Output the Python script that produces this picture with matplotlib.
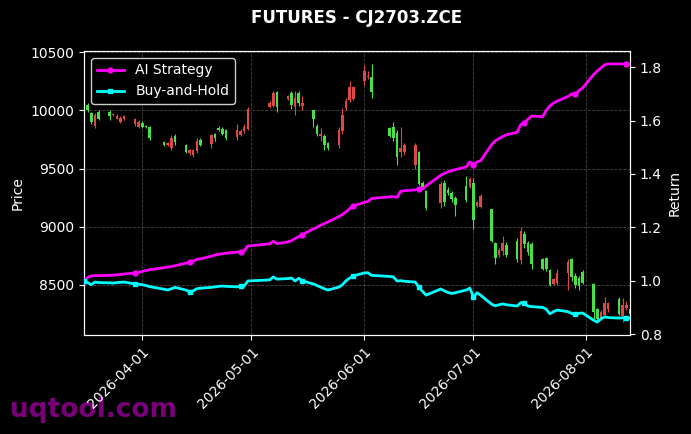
import numpy as np
import pandas as pd
import matplotlib
matplotlib.use("Agg")
import matplotlib.pyplot as plt
import matplotlib.dates as mdates

# ---------------- data ----------------
start_date = "2026-03-16"
end_date = "2026-08-13"
no_trade_days = ["2026-04-06", "2026-05-01", "2026-05-04", "2026-05-05",
                 "2026-06-04", "2026-06-05", "2026-06-19"]

open_ = [10040, 10050, 9980, 9870, 9990, 9990, 9960, 9930, 9900, 9930,
         9880, 9860, 9895, 9870, 9860, 9730, 9700, 9680, 9780, 9700,
         9630, 9620, 9650, 9750, 9710, 9800, 9850, 9840, 9830, 9770,
         9790, 9820, 9840, 10030, 10040, 10160, 10100, 10150, 10030, 10150,
         10040, 10000, 9870, 9780, 9780, 9720, 9700, 9820, 10020, 10090,
         10100, 10250, 10290, 10290, 9850, 9860, 9810, 9640, 9640, 9530,
         9640, 9380, 9310, 9200, 9380, 9320, 9290, 9250, 9350, 9340,
         9380, 9180, 9170, 9150, 8860, 8760, 8790, 8840, 8880, 8710,
         8940, 8860, 8850, 8720, 8730, 8630, 8510, 8520, 8600, 8720,
         8580, 8560, 8610, 8510, 8290, 8210, 8240, 8290, 8380, 8230,
         8300, 8290]
high = [10070, 10060, 9990, 9975, 10000, 10000, 9975, 9965, 9950, 9960,
        9935, 9915, 9905, 9875, 9870, 9735, 9730, 9790, 9800, 9710,
        9670, 9670, 9760, 9760, 9800, 9810, 9870, 9860, 9840, 9880,
        9840, 9880, 10030, 10080, 10170, 10170, 10130, 10170, 10170, 10170,
        10120, 10005, 9880, 9850, 9800, 9730, 9860, 10020, 10110, 10250,
        10210, 10390, 10340, 10400, 9860, 9900, 9830, 9860, 9720, 9720,
        9650, 9390, 9320, 9390, 9400, 9340, 9310, 9260, 9440, 9430,
        9420, 9220, 9280, 9150, 8870, 8820, 8920, 8870, 8900, 9000,
        8960, 8880, 8870, 8730, 8740, 8640, 8560, 8640, 8720, 8730,
        8600, 8580, 8630, 8520, 8300, 8280, 8400, 8350, 8400, 8390,
        8360, 8300]
low = [10020, 9990, 9880, 9850, 9920, 9920, 9950, 9925, 9890, 9920,
       9870, 9850, 9850, 9850, 9745, 9690, 9690, 9660, 9700, 9630,
       9620, 9600, 9630, 9690, 9680, 9740, 9820, 9790, 9750, 9750,
       9780, 9810, 9830, 10020, 10030, 9990, 10090, 10010, 9960, 10040,
       10000, 9860, 9780, 9740, 9660, 9660, 9680, 9800, 10000, 10070,
       10090, 10220, 10270, 10110, 9770, 9740, 9530, 9600, 9620, 9500,
       9360, 9330, 9140, 9160, 9180, 9270, 9210, 9090, 9210, 9330,
       8980, 9170, 9160, 8870, 8680, 8740, 8760, 8740, 8700, 8680,
       8820, 8760, 8640, 8630, 8620, 8490, 8500, 8500, 8460, 8530,
       8470, 8460, 8510, 8190, 8200, 8200, 8220, 8270, 8240, 8180,
       8280, 8240]
close = [10060, 10000, 9900, 9960, 9930, 9950, 9970, 9955, 9935, 9955,
         9925, 9900, 9860, 9860, 9760, 9700, 9720, 9760, 9730, 9640,
         9660, 9660, 9740, 9700, 9790, 9760, 9830, 9800, 9760, 9830,
         9820, 9860, 10010, 10060, 10150, 10030, 10120, 10050, 10110, 10060,
         10060, 9930, 9800, 9800, 9700, 9680, 9830, 9960, 10080, 10200,
         10200, 10340, 10300, 10160, 9780, 9760, 9600, 9680, 9700, 9700,
         9370, 9340, 9160, 9370, 9210, 9290, 9240, 9190, 9230, 9410,
         9060, 9210, 9260, 8880, 8730, 8800, 8860, 8760, 8720, 8960,
         8850, 8780, 8680, 8640, 8640, 8500, 8550, 8600, 8700, 8570,
         8500, 8490, 8520, 8270, 8210, 8270, 8340, 8340, 8250, 8330,
         8330, 8250]

ai_strategy = [1.000, 1.012, 1.018, 1.019, 1.019, 1.020, 1.021, 1.022, 1.023, 1.025,
               1.029, 1.030, 1.035, 1.038, 1.041, 1.049, 1.051, 1.053, 1.056, 1.066,
               1.070, 1.073, 1.080, 1.082, 1.092, 1.096, 1.099, 1.101, 1.103, 1.107,
               1.109, 1.112, 1.130, 1.138, 1.148, 1.139, 1.145, 1.150, 1.158, 1.165,
               1.173, 1.194, 1.200, 1.208, 1.214, 1.220, 1.240, 1.248, 1.258, 1.270,
               1.280, 1.293, 1.297, 1.308, 1.314, 1.315, 1.312, 1.335, 1.337, 1.340,
               1.345, 1.343, 1.355, 1.395, 1.402, 1.408, 1.412, 1.416, 1.426, 1.445,
               1.434, 1.445, 1.450, 1.510, 1.524, 1.532, 1.540, 1.546, 1.556, 1.585,
               1.592, 1.605, 1.617, 1.614, 1.638, 1.655, 1.665, 1.673, 1.690, 1.700,
               1.698, 1.712, 1.722, 1.772, 1.785, 1.797, 1.808, 1.812, 1.812, 1.812,
               1.812, 1.812]
buy_and_hold = [1.000, 0.993, 0.985, 0.995, 0.993, 0.992, 0.991, 0.993, 0.994, 0.995,
                0.988, 0.987, 0.985, 0.982, 0.978, 0.968, 0.965, 0.970, 0.975, 0.965,
                0.958, 0.962, 0.970, 0.972, 0.975, 0.977, 0.979, 0.980, 0.979, 0.977,
                0.979, 0.980, 0.999, 1.003, 1.014, 1.006, 1.008, 1.010, 0.999, 1.009,
                0.999, 0.988, 0.982, 0.976, 0.970, 0.965, 0.976, 0.985, 1.000, 1.010,
                1.018, 1.029, 1.030, 1.020, 1.016, 1.014, 0.999, 1.000, 0.998, 0.995,
                0.975, 0.960, 0.946, 0.969, 0.962, 0.956, 0.952, 0.955, 0.965, 0.972,
                0.939, 0.955, 0.945, 0.912, 0.906, 0.910, 0.913, 0.910, 0.905, 0.918,
                0.915, 0.905, 0.903, 0.900, 0.893, 0.876, 0.884, 0.890, 0.884, 0.877,
                0.875, 0.878, 0.879, 0.852, 0.845, 0.857, 0.864, 0.862, 0.860, 0.861,
                0.860, 0.860]

title = "FUTURES - CJ2703.ZCE"
series_names = ["AI Strategy", "Buy-and-Hold"]

# ---------------- figure ----------------
dates = pd.bdate_range(start_date, end_date)
dates = dates[~dates.isin(pd.to_datetime(no_trade_days))]

df = pd.DataFrame({"open": open_, "high": high, "low": low, "close": close,
                   "ai": ai_strategy, "bh": buy_and_hold}, index=dates)

UP = "#e04848"
DOWN = "#48e048"

fig = plt.figure(figsize=(6.91, 4.34), dpi=100, facecolor="black")
ax = fig.add_axes([0.1216, 0.2281, 0.7901, 0.6544])
ax.set_facecolor("black")

x = mdates.date2num(df.index.to_pydatetime())
up = df["close"] >= df["open"]
colors = np.where(up, UP, DOWN)
ax.vlines(x, df["low"], df["high"], colors=colors, linewidth=0.8, zorder=2)
body_bottom = np.minimum(df["open"], df["close"])
body_h = np.abs(df["close"] - df["open"])
body_h = np.maximum(body_h, 4)
ax.bar(x, body_h, bottom=body_bottom, width=0.7, color=colors, zorder=3, linewidth=0)
ax.use_sticky_edges = False
ax.margins(x=0, y=0.05)

ax2 = ax.twinx()
l1, = ax2.plot(x, df["ai"], color="#ff00ff", linewidth=2, marker="o", markersize=3.5,
               markevery=10, label=series_names[0], zorder=5)
l2, = ax2.plot(x, df["bh"], color="#00ffff", linewidth=2, marker="s", markersize=3.5,
               markevery=10, label=series_names[1], zorder=5)

ax.set_xlim(x[0], x[-1])

ax.xaxis.set_major_locator(mdates.MonthLocator())
ax.xaxis.set_major_formatter(mdates.DateFormatter("%Y-%m-%d"))
for lab in ax.get_xticklabels():
    lab.set_rotation(45)
    lab.set_ha("right")
    lab.set_rotation_mode("anchor")

for a in (ax, ax2):
    a.tick_params(colors="white", labelsize=10)
    for s in a.spines.values():
        s.set_color("white")

ax.grid(True, color="#555555", linestyle="--", linewidth=0.6, alpha=0.8)
ax.set_ylabel("Price", color="white", fontsize=10)
ax2.set_ylabel("Return", color="white", fontsize=10)

leg = ax2.legend(loc="upper left", facecolor="black", edgecolor="#cccccc",
                 fontsize=10, framealpha=1)
for t in leg.get_texts():
    t.set_color("white")

fig.text(0.5166, 0.9585, title, color="white", fontsize=12, fontweight="bold",
         ha="center", va="center")
fig.text(0.015, 0.04, "uqtool.com", color="#800080", fontsize=19, fontweight="bold",
         ha="left", va="baseline", alpha=0.95, zorder=-1)

fig.savefig("out.png", dpi=100, facecolor="black")
